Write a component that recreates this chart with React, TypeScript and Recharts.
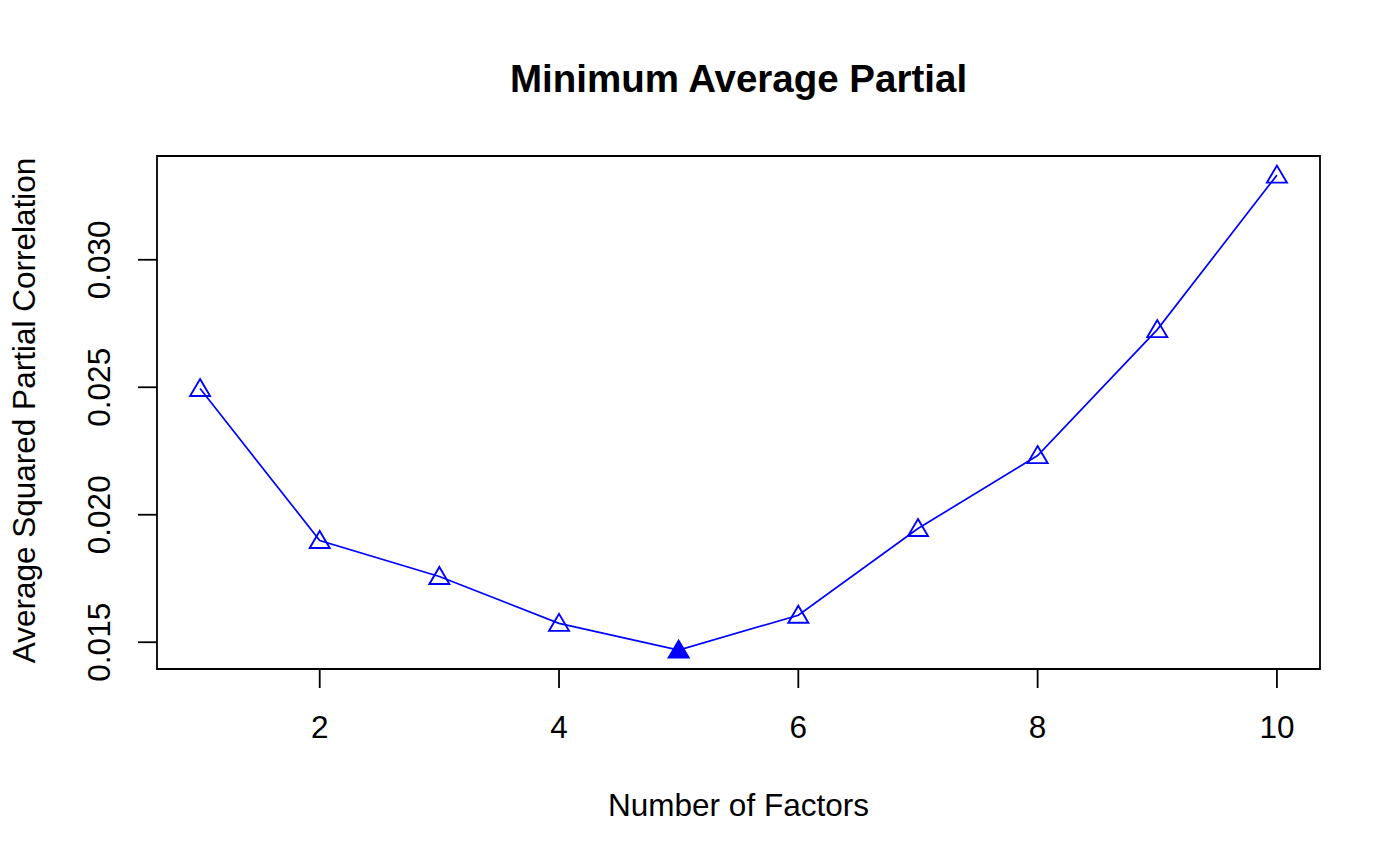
import { Label, Line, LineChart, ReferenceArea, XAxis, YAxis } from "recharts";

const factors = [1, 2, 3, 4, 5, 6, 7, 8, 9, 10];
const mapValues = [
  0.02495, 0.01899, 0.01758, 0.01574, 0.01469, 0.01606, 0.01946, 0.02232,
  0.02726, 0.03332,
];
const xTicks = [2, 4, 6, 8, 10];
const yTicks = [0.015, 0.02, 0.025, 0.03];

const xDomain = [0.64, 10.36];
const yDomain = [0.01395, 0.03407];

const data = factors.map((f, i) => ({ factor: f, map: mapValues[i] }));
const minValue = Math.min(...mapValues);

const BLUE = "#0000ff";
const FONT = '"Liberation Sans", Arial, Helvetica, sans-serif';
const FS = 31.5;

const TriangleDot = (props: any) => {
  const { cx, cy, payload, index } = props;
  if (cx == null || cy == null) return null;
  const filled = payload.map === minValue;
  return (
    <path
      key={`dot-${index}`}
      d={`M${cx},${cy - 9.5} L${cx + 10},${cy + 7.5} L${cx - 10},${cy + 7.5} Z`}
      fill={filled ? BLUE : "none"}
      stroke={BLUE}
      strokeWidth={1.9}
    />
  );
};

const YTick = (props: any) => {
  const { x, y, payload } = props;
  return (
    <text
      x={x - 26}
      y={y}
      transform={`rotate(-90, ${x - 26}, ${y})`}
      textAnchor="middle"
      fontSize={FS}
      fill="#000"
    >
      {Number(payload.value).toFixed(3)}
    </text>
  );
};

export default function App() {
  return (
    <div style={{ position: "absolute", left: 0, top: 0, fontFamily: FONT, background: "#fff" }}>
      <LineChart
        width={1400}
        height={866}
        data={data}
        margin={{ top: 156, right: 80, bottom: 0, left: 0 }}
      >
        <text
          x={738.5}
          y={92}
          textAnchor="middle"
          fontSize={38.5}
          fontWeight="bold"
          fill="#000"
        >
          Minimum Average Partial
        </text>
        <XAxis
          dataKey="factor"
          type="number"
          domain={xDomain}
          ticks={xTicks}
          allowDataOverflow
          height={197}
          axisLine={false}
          tickSize={19}
          tickMargin={28}
          tickLine={{ stroke: "#000", strokeWidth: 1.8 }}
          tick={{ fill: "#000", fontSize: FS }}
        >
          <Label
            content={(p: any) => {
              const vb = p.viewBox;
              return (
                <text
                  x={vb.x + vb.width / 2}
                  y={vb.y + 147}
                  textAnchor="middle"
                  fontSize={FS}
                  fill="#000"
                >
                  Number of Factors
                </text>
              );
            }}
          />
        </XAxis>
        <YAxis
          type="number"
          domain={yDomain}
          ticks={yTicks}
          allowDataOverflow
          width={157}
          axisLine={false}
          tickSize={19}
          tickLine={{ stroke: "#000", strokeWidth: 1.8 }}
          tick={<YTick />}
        >
          <Label
            content={(p: any) => {
              const vb = p.viewBox;
              const cy = vb.y + vb.height / 2 - 2;
              return (
                <text
                  x={35}
                  y={cy}
                  transform={`rotate(-90, 35, ${cy})`}
                  textAnchor="middle"
                  fontSize={FS}
                  fill="#000"
                >
                  Average Squared Partial Correlation
                </text>
              );
            }}
          />
        </YAxis>
        <ReferenceArea
          x1={xDomain[0]}
          x2={xDomain[1]}
          y1={yDomain[0]}
          y2={yDomain[1]}
          fill="none"
          stroke="#000"
          strokeWidth={1.8}
          ifOverflow="visible"
        />
        <Line
          type="linear"
          dataKey="map"
          stroke={BLUE}
          strokeWidth={1.7}
          dot={TriangleDot}
          activeDot={false}
          isAnimationActive={false}
        />
      </LineChart>
    </div>
  );
}
